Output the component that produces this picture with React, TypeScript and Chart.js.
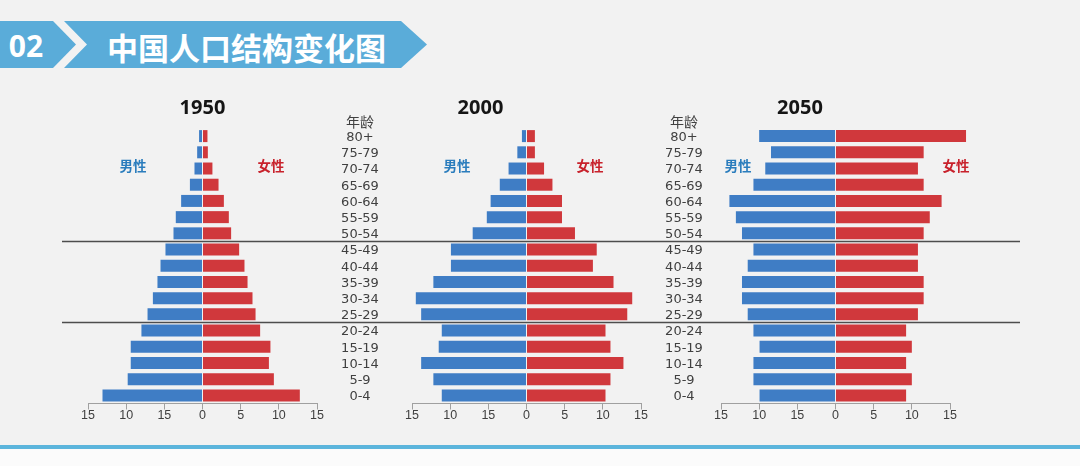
import React, { useEffect, useRef } from 'react';
import { Chart, registerables } from 'chart.js';

Chart.register(...registerables);

// ---------- data ----------
const ages = ['80+', '75-79', '70-74', '65-69', '60-64', '55-59', '50-54', '45-49', '40-44', '35-39', '30-34', '25-29', '20-24', '15-19', '10-14', '5-9', '0-4'];

const male1950 = [0.45, 0.7, 1.05, 1.65, 2.8, 3.5, 3.8, 4.85, 5.5, 5.9, 6.5, 7.2, 8.0, 9.4, 9.4, 9.8, 13.1];
const female1950 = [0.65, 0.7, 1.3, 2.1, 2.8, 3.45, 3.75, 4.8, 5.5, 5.9, 6.55, 6.95, 7.55, 8.9, 8.7, 9.35, 12.75];

const male2000 = [0.6, 1.2, 2.35, 3.5, 4.7, 5.2, 7.05, 9.9, 9.9, 12.2, 14.5, 13.8, 11.1, 11.5, 13.8, 12.2, 11.1];
const female2000 = [1.1, 1.1, 2.3, 3.4, 4.65, 4.65, 6.35, 9.2, 8.7, 11.4, 13.85, 13.2, 10.35, 11.0, 12.7, 11.0, 10.35];

const male2050 = [10.0, 8.45, 9.2, 10.75, 13.9, 13.05, 12.25, 10.75, 11.5, 12.25, 12.25, 11.5, 10.75, 9.95, 10.75, 10.75, 9.95];
const female2050 = [17.1, 11.55, 10.8, 11.55, 13.9, 12.35, 11.55, 10.8, 10.8, 11.55, 11.55, 10.8, 9.25, 10.0, 9.25, 10.0, 9.25];

const xTickLabels = ['15', '10', '15', '0', '5', '10', '15'];
const separatorsAfter = ['50-54', '25-29'];

const maleLabel = '男性';
const femaleLabel = '女性';
const ageHeader = '年龄';
const sectionNo = '02';
const pageTitle = '中国人口结构变化图';

// ---------- styles ----------
const MALE_COLOR = '#3f7dc5';
const FEMALE_COLOR = '#d0383c';
const MALE_TEXT = '#2b7dbd';
const FEMALE_TEXT = '#c8222c';
const AGE_FONT = { family: "'DejaVu Sans', sans-serif", size: 13 };
const TICK_FONT = { family: "'Liberation Sans Narrow', 'Liberation Sans', sans-serif", size: 12.5, lineHeight: 1 };
const CJK = "'Noto Sans CJK SC', sans-serif";

const separatorPlugin = {
  id: 'separators',
  afterDatasetsDraw(chart: any, _args: any, opts: any) {
    const y = chart.scales.y;
    const ctx = chart.ctx;
    ctx.save();
    ctx.strokeStyle = opts.color;
    ctx.lineWidth = opts.width;
    for (const after of separatorsAfter) {
      const i = ages.indexOf(after);
      const py = (y.getPixelForValue(i) + y.getPixelForValue(i + 1)) / 2;
      ctx.beginPath();
      ctx.moveTo(opts.from, py);
      ctx.lineTo(opts.to, py);
      ctx.stroke();
    }
    ctx.restore();
  },
};

type PyramidProps = {
  year: string;
  male: number[];
  female: number[];
  left: number;
  width: number;
  padLeft: number;
  padRight: number;
  axisWidth: number;
  labelCenter: number | null;
  lineFrom: number;
  lineTo: number;
};

const H = 466;

function Pyramid(p: PyramidProps) {
  const ref = useRef<HTMLCanvasElement>(null);
  useEffect(() => {
    const canvas = ref.current!;
    const mctx = document.createElement('canvas').getContext('2d')!;
    mctx.font = `${AGE_FONT.size}px ${AGE_FONT.family}`;
    const widest = Math.max(...ages.map((a) => mctx.measureText(a).width));
    const areaLeft = p.padLeft + p.axisWidth;
    const labelPad = p.labelCenter != null ? areaLeft - (p.labelCenter - p.left) - widest / 2 : 0;

    const chart = new Chart(canvas, {
      type: 'bar',
      data: {
        labels: ages,
        datasets: [
          { label: maleLabel, data: p.male.map((v) => -v), backgroundColor: MALE_COLOR, clip: false } as any,
          { label: femaleLabel, data: p.female, backgroundColor: FEMALE_COLOR, clip: false } as any,
        ],
      },
      options: {
        responsive: false,
        animation: false,
        indexAxis: 'y',
        layout: { padding: { left: p.padLeft, right: p.padRight, top: 96, bottom: 42.5 } },
        datasets: { bar: { barPercentage: 0.74, categoryPercentage: 1, borderWidth: 0 } },
        scales: {
          x: {
            stacked: true,
            min: -15,
            max: 15,
            ticks: {
              stepSize: 5,
              autoSkip: false,
              maxRotation: 0,
              padding: 0,
              color: '#404040',
              font: TICK_FONT,
              callback: (_v: any, i: number) => xTickLabels[i],
            },
            grid: { drawOnChartArea: false, drawTicks: true, tickLength: 6, color: '#a0a0a0', lineWidth: 1 },
            border: { display: true, color: '#a0a0a0', width: 1 },
            afterFit: (s: any) => {
              s.height = 20;
            },
          },
          y: {
            stacked: true,
            display: p.labelCenter != null,
            position: 'left',
            grid: { display: false, drawTicks: false },
            border: { display: false },
            ticks: {
              crossAlign: 'center',
              padding: labelPad,
              labelOffset: 1.5,
              color: '#404040',
              font: AGE_FONT,
              autoSkip: false,
            },
            afterFit: (s: any) => {
              s.width = p.axisWidth;
              s.paddingTop = 0;
              s.paddingBottom = 0;
            },
          },
        },
        plugins: {
          legend: { display: false },
          tooltip: { enabled: false },
          title: {
            display: true,
            text: p.year,
            color: '#151515',
            font: { family: "'Noto Sans', sans-serif", size: 20, weight: 'bold', lineHeight: 1.2 },
            padding: { top: 0, bottom: 8 },
          },
          separators: { from: p.lineFrom, to: p.lineTo, color: '#4d4d4d', width: 1.5 },
        } as any,
      },
      plugins: [separatorPlugin],
    } as any);
    return () => chart.destroy();
  }, []);
  return (
    <canvas
      ref={ref}
      width={p.width}
      height={H}
      style={{ position: 'absolute', left: p.left, top: 0, width: p.width, height: H }}
    />
  );
}

function Label(props: { x: number; y: number; text: string; color: string; size: number; bold?: boolean }) {
  return (
    <div
      style={{
        position: 'absolute',
        left: props.x,
        top: props.y,
        transform: 'translate(-50%, -50%)',
        color: props.color,
        fontSize: props.size,
        fontWeight: props.bold ? 700 : 400,
        fontFamily: CJK,
        lineHeight: 1,
        whiteSpace: 'nowrap',
      }}
    >
      {props.text}
    </div>
  );
}

export default function App() {
  return (
    <div
      style={{
        position: 'absolute',
        left: 0,
        top: 0,
        width: 1080,
        height: 466,
        overflow: 'hidden',
        background: '#f2f2f2',
      }}
    >
      {/* bottom band */}
      <div style={{ position: 'absolute', left: 0, top: 445, width: 1080, height: 4, background: '#5cb5dc' }} />
      <div style={{ position: 'absolute', left: 0, top: 449, width: 1080, height: 17, background: '#fbfbfb' }} />

      {/* header banner */}
      <svg width={440} height={80} style={{ position: 'absolute', left: 0, top: 0 }}>
        <polygon points="0,21 53,21 76,44.5 53,68 0,68" fill="#5aacd9" />
        <polygon points="64,21 401,21 427,44.5 401,68 64,68 87,44.5" fill="#5aacd9" />
        <text x={26} y={45} fill="#ffffff" fontFamily="'Noto Sans', sans-serif" fontWeight={700} fontSize={30} textAnchor="middle" dominantBaseline="central">
          {sectionNo}
        </text>
        <text x={246.5} y={46} fill="#ffffff" fontFamily={CJK} fontWeight={700} fontSize={31} textAnchor="middle" dominantBaseline="central">
          {pageTitle}
        </text>
      </svg>

      <Pyramid year="1950" male={male1950} female={female1950} left={40} width={325} padLeft={48} padRight={48} axisWidth={0} labelCenter={null} lineFrom={22} lineTo={300} />
      <Pyramid year="2000" male={male2000} female={female2000} left={320} width={413} padLeft={0} padRight={92} axisWidth={92} labelCenter={360} lineFrom={20} lineTo={350} />
      <Pyramid year="2050" male={male2050} female={female2050} left={650} width={371} padLeft={0} padRight={71} axisWidth={71} labelCenter={684} lineFrom={20} lineTo={370} />

      <Label x={360} y={121} text={ageHeader} color="#404040" size={14} />
      <Label x={684} y={121} text={ageHeader} color="#404040" size={14} />

      <Label x={133} y={166} text={maleLabel} color={MALE_TEXT} size={13.5} bold />
      <Label x={271} y={166} text={femaleLabel} color={FEMALE_TEXT} size={13.5} bold />
      <Label x={457} y={166} text={maleLabel} color={MALE_TEXT} size={13.5} bold />
      <Label x={590} y={166} text={femaleLabel} color={FEMALE_TEXT} size={13.5} bold />
      <Label x={738} y={166} text={maleLabel} color={MALE_TEXT} size={13.5} bold />
      <Label x={956} y={166} text={femaleLabel} color={FEMALE_TEXT} size={13.5} bold />
    </div>
  );
}
